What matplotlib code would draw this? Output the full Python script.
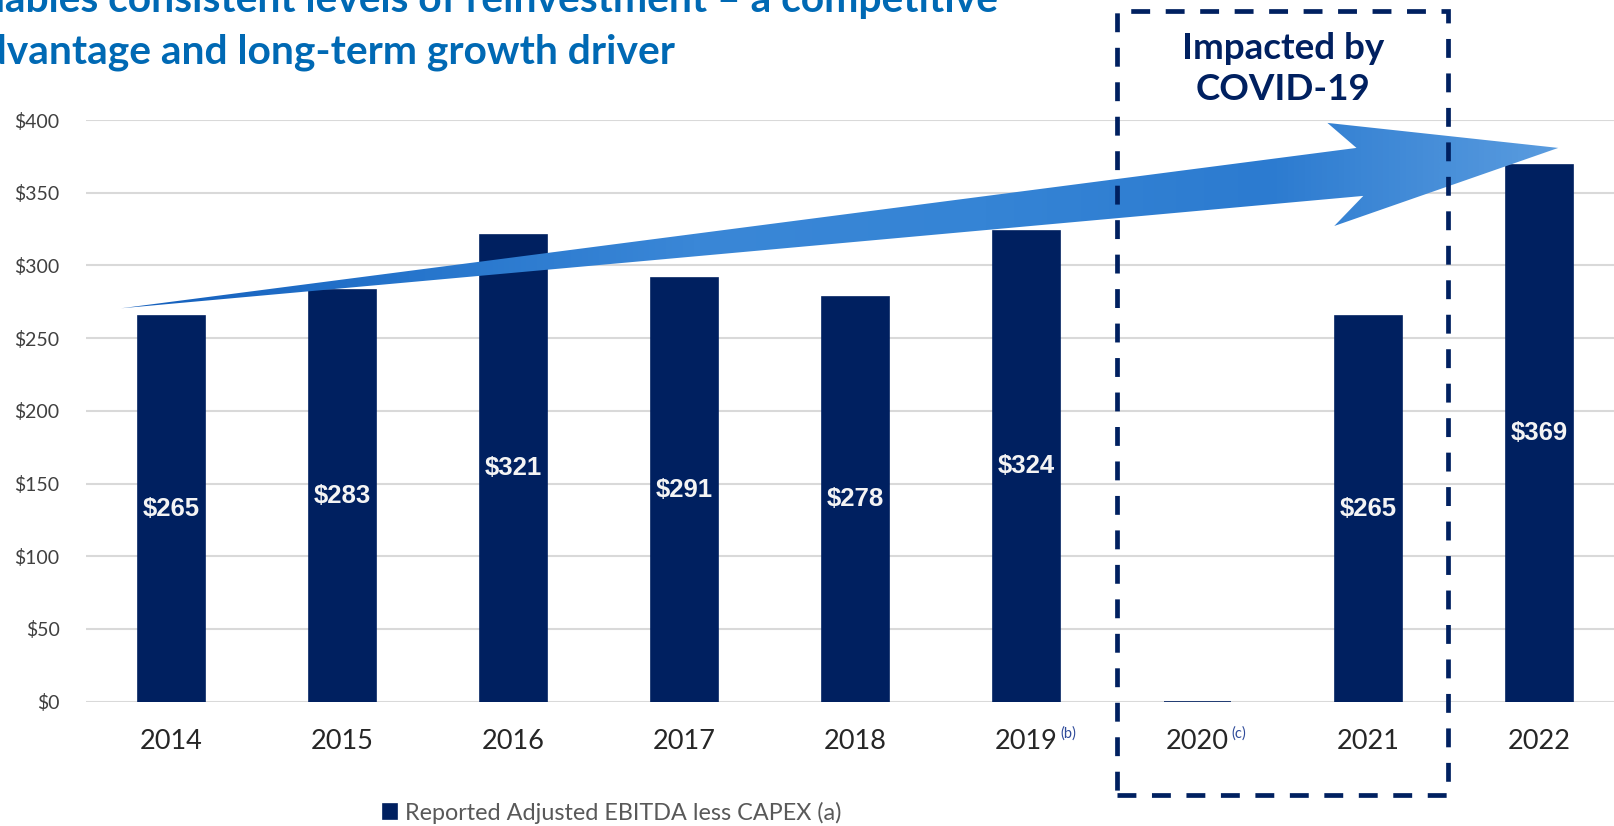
import numpy as np
import matplotlib
import matplotlib.pyplot as plt
from matplotlib.colors import LinearSegmentedColormap
from matplotlib.patches import Polygon, Rectangle

matplotlib.use("Agg")

# data
years = ["2014", "2015", "2016", "2017", "2018", "2019", "2020", "2021", "2022"]
values = [265, 283, 321, 291, 278, 324, 0, 265, 369]
bar_labels = ["$265", "$283", "$321", "$291", "$278", "$324", "", "$265", "$369"]
footnotes = {"2019": "(b)", "2020": "(c)"}
yticks = [0, 50, 100, 150, 200, 250, 300, 350, 400]
series_name = "Reported Adjusted EBITDA less CAPEX (a)"
title_lines = [
    "Free cash flow enables consistent levels of reinvestment \u2013 a competitive",
    "advantage and long-term growth driver",
]

NAVY = "#002060"
TITLE_BLUE = "#0069B4"
W, H = 1614, 826

plt.rcParams["font.family"] = ["Lato", "DejaVu Sans"]

fig = plt.figure(figsize=(W / 100, H / 100), dpi=100)
ax = fig.add_axes([86 / W, (H - 701.6) / H, 1 - 86 / W, (701.6 - 120) / H])

x = np.arange(len(years))
bars = ax.bar(x, values, width=0.395, color=NAVY, edgecolor=NAVY,
              linewidth=1.2, zorder=2, label=series_name)

for xi, v, lab in zip(x, values, bar_labels):
    if lab:
        ax.text(xi, v / 2, lab, ha="center", va="center", color="#F4F4F4",
                fontsize=18.5, fontweight="bold", family="Liberation Sans", zorder=3)

ax.set_xlim(-0.5, 8.436)
ax.set_ylim(0, 400)
ax.set_yticks(yticks)
ax.set_yticklabels([f"${t}" for t in yticks], fontsize=14, color="#404040")
ax.set_xticks(x)
ax.set_xticklabels(years, fontsize=19.5, color="#262626")
ax.tick_params(axis="x", length=0, pad=20)
ax.tick_params(axis="y", length=0, pad=19)
ax.grid(axis="y", color="#D9D9D9", linewidth=1.5, zorder=0)
ax.set_axisbelow(True)
for s in ax.spines.values():
    s.set_visible(False)

# footnote superscripts on tick labels
for tl in ax.get_xticklabels():
    note = footnotes.get(tl.get_text())
    if note:
        ax.annotate(note, xy=(1, 1), xycoords=tl, xytext=(2, -3),
                    textcoords="offset points", ha="left", va="center",
                    fontsize=10.5, color="#2F4B9A")

# growth arrow (data coords)
arrow_pts = [(-0.295, 270.5), (6.93, 380.8), (6.76, 398.0), (8.11, 380.8),
             (6.80, 327.1), (6.97, 347.8)]
arrow = Polygon(arrow_pts, closed=True, facecolor="none", edgecolor="none", zorder=4)
ax.add_patch(arrow)
cmap = LinearSegmentedColormap.from_list(
    "arr", ["#145FBC", "#2675CC", "#3A87D7", "#3584D5", "#2C7BD0", "#5A9CDF"])
grad = ax.imshow(np.linspace(0, 1, 256).reshape(1, -1), cmap=cmap, aspect="auto",
                 extent=(-0.3, 8.12, 265, 400), zorder=4, interpolation="bilinear")
grad.set_clip_path(arrow)
ax.set_xlim(-0.5, 8.436)
ax.set_ylim(0, 400)

# COVID dashed box
box = Rectangle((1117 / W, 1 - 795 / H), (1448 - 1117) / W, (795 - 11) / H,
                transform=fig.transFigure, fill=False, edgecolor=NAVY,
                linewidth=3.4, linestyle=(0, (4, 3.3)), zorder=5)
box.set_capstyle("butt")
fig.patches.append(box)
fig.text(1283 / W, 1 - 69 / H, "Impacted by\nCOVID-19", ha="center", va="center",
         fontsize=26.5, fontweight="bold", color=NAVY, linespacing=1.3)

# title (cropped at left/top like the slide)
fig.text(998 / W, 1 - 11.7 / H, title_lines[0], ha="right", va="baseline",
         fontsize=29.35, fontweight="bold", color=TITLE_BLUE)
fig.text(675 / W, 1 - 63.3 / H, title_lines[1], ha="right", va="baseline",
         fontsize=29.35, fontweight="bold", color=TITLE_BLUE)

fig.legend(handles=[bars], loc="center left", bbox_to_anchor=(383 / W, 1 - 813 / H),
           frameon=False, fontsize=16.8, handlelength=0.6, handleheight=0.6,
           handletextpad=0.35, borderpad=0, borderaxespad=0, labelcolor="#595959")

fig.savefig("out.png", dpi=100)
